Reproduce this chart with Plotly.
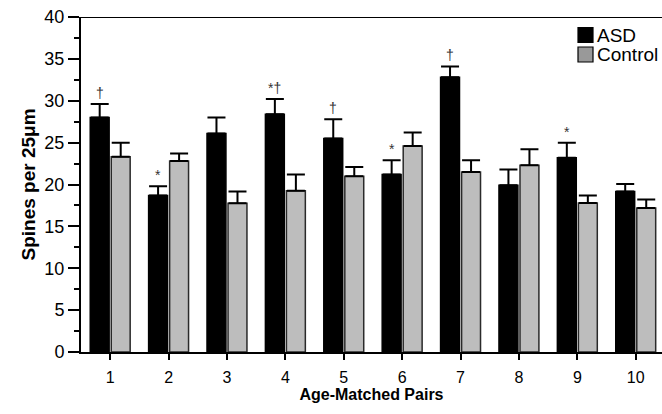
import plotly.graph_objects as go

pairs = [1, 2, 3, 4, 5, 6, 7, 8, 9, 10]
asd_mean = [28.0, 18.7, 26.1, 28.4, 25.5, 21.2, 32.8, 19.9, 23.2, 19.15]
asd_err = [1.6, 1.1, 1.9, 1.8, 2.3, 1.7, 1.3, 1.9, 1.8, 0.9]
ctl_mean = [23.3, 22.8, 17.75, 19.25, 21.0, 24.6, 21.5, 22.3, 17.8, 17.2]
ctl_err = [1.7, 0.9, 1.4, 1.95, 1.1, 1.6, 1.4, 1.9, 0.9, 1.0]
marks = ["†", "*", "", "*†", "†", "*", "†", "", "*", ""]
legend_names = ["ASD", "Control"]
legend_fills = ["black", "#999999"]

font = "Liberation Sans, Arial, sans-serif"

fig = go.Figure()
fig.add_trace(go.Bar(
    x=pairs, y=asd_mean, name="ASD", showlegend=False,
    marker=dict(color="black", line=dict(color="black", width=1.5)),
    error_y=dict(type="data", array=asd_err, arrayminus=[0]*10, symmetric=False,
                 color="black", thickness=2, width=9),
))
fig.add_trace(go.Bar(
    x=pairs, y=ctl_mean, name="Control", showlegend=False,
    marker=dict(color="#bdbdbd", line=dict(color="#2a2a2a", width=1.5)),
    error_y=dict(type="data", array=ctl_err, arrayminus=[0]*10, symmetric=False,
                 color="black", thickness=2, width=9),
))

for p, m, e, t in zip(pairs, asd_mean, asd_err, marks):
    if t:
        fig.add_annotation(x=p - 0.18, y=m + e, text=t, showarrow=False,
                           yanchor="bottom", yshift=1,
                           font=dict(family=font, size=14, color="#333333"))

# top frame line
fig.add_shape(type="line", xref="paper", yref="y", x0=0, x1=1, y0=40, y1=40,
              line=dict(color="black", width=2))

# manual legend (plot area: x 81..662, y 17..352)
W, H, L, T = 581.0, 335.0, 81.0, 17.0
def px(xp):
    return (xp - L) / W
def py(yp):
    return (352.0 - yp) / H
for i, (nm, fc) in enumerate(zip(legend_names, legend_fills)):
    cy = 35 + 19.5 * i
    fig.add_shape(type="rect", xref="paper", yref="paper",
                  x0=px(578), x1=px(593), y0=py(cy - 7.5), y1=py(cy + 7.5),
                  fillcolor=fc, line=dict(color="black", width=1.2))
    fig.add_annotation(xref="paper", yref="paper", x=px(595), y=py(cy),
                       text=nm, showarrow=False, xanchor="left", yanchor="middle",
                       font=dict(family=font, size=19, color="black"))

fig.update_layout(
    width=662, height=414,
    margin=dict(l=81, r=0, t=17, b=62),
    paper_bgcolor="white", plot_bgcolor="white",
    barmode="group", bargap=0.28, bargroupgap=0.1,
    font=dict(family=font, size=15, color="black"),
    showlegend=False,
    xaxis=dict(
        range=[0.5, 10.45], tickmode="array", tickvals=pairs,
        ticktext=[str(p) for p in pairs],
        tickfont=dict(size=16), ticklabelstandoff=4,
        showline=True, linecolor="black", linewidth=2,
        ticks="outside", ticklen=6, tickwidth=2, tickcolor="black",
        showgrid=False, zeroline=False,
        title=dict(text="<b>Age-Matched Pairs</b>", font=dict(size=16), standoff=4),
    ),
    yaxis=dict(
        range=[0, 40], tickmode="linear", tick0=0, dtick=5,
        tickfont=dict(size=18),
        showline=True, linecolor="black", linewidth=2,
        ticks="outside", ticklen=11, tickwidth=2, tickcolor="black",
        minor=dict(ticks="outside", ticklen=5, tickwidth=2, tickcolor="black", dtick=2.5, showgrid=False),
        showgrid=False, zeroline=False,
        title=dict(text="<b>Spines per 25μm</b>", font=dict(size=19), standoff=4),
    ),
)

fig.write_html("out.html")
